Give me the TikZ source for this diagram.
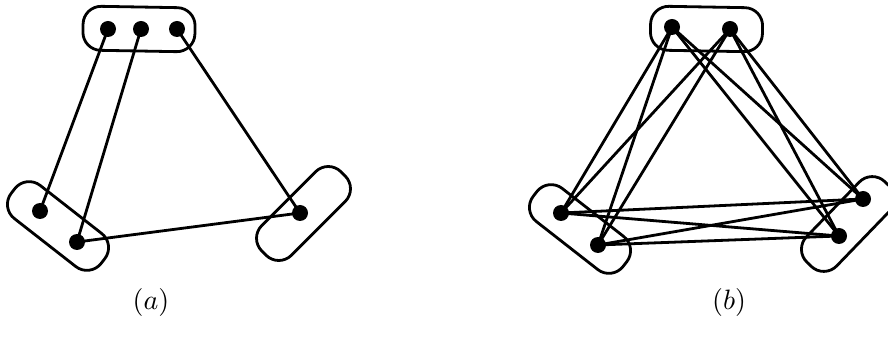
\documentclass[tikz,border=0pt]{standalone}
\begin{document}
\begin{tikzpicture}[x=1pt,y=1pt,
  partbox/.style={draw=black, line width=2.8pt, rectangle, rounded corners=18pt,
    minimum width=114pt, minimum height=42pt, inner sep=0pt},
  vdot/.style={circle, fill=black, inner sep=0pt, minimum size=16pt},
  edge/.style={draw=black, line width=2.8pt},
  lab/.style={scale=2.8, inner sep=0pt}]
\useasboundingbox (0,0) rectangle (888,337);
% ---------- (a) ----------
\node[partbox, rotate=-1, minimum width=112pt, minimum height=44pt] (TA) at (139,308) {};
\node[partbox, rotate=-38] (LA) at (58,111) {};
\node[partbox, rotate=45, minimum width=112pt] (RA) at (303.5,123.5) {};
\node[vdot] (ta1) at (108,308) {};
\node[vdot] (ta2) at (141,308) {};
\node[vdot] (ta3) at (177,308) {};
\node[vdot] (la1) at (40,126) {};
\node[vdot] (la2) at (77,95) {};
\node[vdot] (ra1) at (300,124) {};
\draw[edge] (ta1.center) -- (la1.center);
\draw[edge] (ta2.center) -- (la2.center);
\draw[edge] (ta3.center) -- (ra1.center);
\draw[edge] (la2.center) -- (ra1.center);
\node[lab] (capa) at (151,34) {$(a)$};
% ---------- (b) ----------
\node[partbox, rotate=-1, minimum width=112pt, minimum height=44pt] (TB) at (706.5,308) {};
\node[partbox, rotate=-38] (LB) at (580,108) {};
\node[partbox, rotate=46, minimum width=112pt] (RB) at (848,113) {};
\node[vdot] (tb1) at (672,310) {};
\node[vdot] (tb2) at (730,308) {};
\node[vdot] (lb1) at (561,124) {};
\node[vdot] (lb2) at (598,92) {};
\node[vdot] (rb1) at (863,138) {};
\node[vdot] (rb2) at (839,101) {};
\foreach \t in {tb1,tb2}{
  \foreach \o in {lb1,lb2,rb1,rb2}{
    \draw[edge] (\t.center) -- (\o.center);
  }
}
\foreach \l in {lb1,lb2}{
  \foreach \r in {rb1,rb2}{
    \draw[edge] (\l.center) -- (\r.center);
  }
}
\node[lab] (capb) at (729,34) {$(b)$};
\end{tikzpicture}
\end{document}
